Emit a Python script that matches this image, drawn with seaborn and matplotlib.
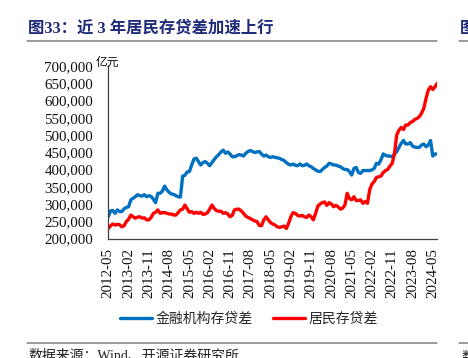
import matplotlib
matplotlib.use("Agg")
import matplotlib.pyplot as plt
from matplotlib.lines import Line2D
from matplotlib.ticker import FuncFormatter
import seaborn as sns
import pandas as pd

# ---- data (亿元), monthly 2012-05 .. 2024-07 ----
months = pd.date_range("2012-05-01", periods=147, freq="MS").strftime("%Y-%m").tolist()

inst_gap = [  # 金融机构存贷差 (thousand 亿元)
    263, 280, 281, 273, 283, 278, 278, 286, 290, 292,
    312, 317, 321, 327, 324, 323, 327, 321, 324, 322,
    314, 304, 331, 331, 337, 352, 341, 334, 329, 328,
    324, 321, 320, 381, 383, 393, 394, 413, 430, 433,
    423, 413, 420, 423, 418, 411, 420, 429, 437, 443,
    451, 456, 447, 451, 445, 437, 437, 440, 443, 442,
    439, 447, 452, 455, 452, 449, 451, 452, 445, 439,
    442, 437, 435, 437, 435, 434, 432, 429, 426, 420,
    415, 413, 416, 412, 411, 416, 411, 412, 416, 411,
    408, 403, 399, 395, 394, 400, 406, 410, 418, 416,
    413, 413, 410, 408, 403, 400, 400, 394, 384, 403,
    406, 391, 389, 397, 397, 397, 397, 399, 403, 418,
    416, 428, 445, 441, 439, 439, 437, 445, 452, 464,
    476, 484, 474, 474, 478, 468, 465, 464, 464, 471,
    474, 466, 471, 484, 439, 445, 445,
]
hh_gap = [  # 居民存贷差 (thousand 亿元)
    229, 237, 242, 239, 241, 240, 234, 237, 249, 256,
    268, 263, 259, 262, 263, 259, 260, 254, 254, 261,
    273, 276, 283, 273, 275, 275, 273, 271, 271, 268,
    268, 275, 283, 285, 297, 286, 276, 278, 273, 276,
    273, 276, 270, 271, 275, 285, 297, 287, 281, 279,
    279, 273, 275, 271, 263, 267, 283, 285, 285, 280,
    273, 265, 261, 258, 254, 251, 249, 238, 237, 254,
    263, 254, 246, 242, 239, 234, 232, 234, 236, 229,
    244, 263, 275, 273, 267, 265, 267, 263, 261, 268,
    263, 254, 273, 294, 300, 304, 306, 296, 304, 300,
    292, 296, 292, 285, 288, 297, 331, 316, 312, 321,
    310, 310, 312, 302, 307, 302, 341, 358, 365, 377,
    379, 381, 391, 397, 400, 410, 418, 447, 500, 514,
    522, 516, 529, 529, 536, 539, 545, 548, 553, 563,
    577, 606, 630, 640, 632, 640, 650,
]
series_names = ["金融机构存贷差", "居民存贷差"]
tick_step = 9

df = pd.DataFrame({
    "idx": list(range(len(months))) * 2,
    "value": [v * 1000 for v in inst_gap] + [v * 1000 for v in hh_gap],
    "series": [series_names[0]] * len(months) + [series_names[1]] * len(months),
})

# ---- style ----
sns.set_style("white")
plt.rcParams["font.family"] = ["Liberation Serif", "Noto Sans CJK SC", "DejaVu Sans"]

W, H = 468, 358
fig = plt.figure(figsize=(W / 100, H / 100), dpi=100)
ax = fig.add_axes([108.3 / W, 1 - 238.5 / H, (437.3 - 108.3) / W, (238.5 - 66) / H])

sns.lineplot(data=df, x="idx", y="value", hue="series",
             palette={series_names[0]: "#0070C0", series_names[1]: "#FF0000"},
             linewidth=2.4, ax=ax, legend=False)

ax.set_xlim(0, len(months) - 1)
ax.set_ylim(200000, 700000)
ax.set_yticks(range(200000, 700001, 50000))
ax.yaxis.set_major_formatter(FuncFormatter(lambda v, p: f"{int(v):,}"))
xt = list(range(0, len(months), tick_step))
ax.set_xticks(xt)
ax.set_xticklabels([months[i] for i in xt], rotation=90)
ax.set_xlabel("")
ax.set_ylabel("")

for s in ["top", "right"]:
    ax.spines[s].set_visible(False)
for s in ["left", "bottom"]:
    ax.spines[s].set_color("#404040")
    ax.spines[s].set_linewidth(0.9)

ax.tick_params(axis="y", direction="in", length=3, width=0.8, color="#404040",
               pad=11, labelsize=10.8, labelcolor="#111111")
ax.tick_params(axis="x", direction="in", length=3, width=0.8, color="#404040",
               pad=7, labelsize=10.8, labelcolor="#111111")

cjk = ["Noto Sans CJK SC", "DejaVu Sans"]
# unit label
fig.text(96 / W, 1 - 62 / H, "亿元", fontsize=8.5, va="center", ha="left",
         color="#111111", family=cjk)

# legend
handles = [Line2D([], [], color="#0070C0", lw=2.4), Line2D([], [], color="#FF0000", lw=2.4)]
fig.legend(handles, series_names, loc="center", bbox_to_anchor=(249 / W, 1 - 319 / H),
           ncol=2, frameon=False, prop={"family": cjk, "size": 10}, handlelength=2.3,
           handletextpad=0.25, columnspacing=1.5)

# title & page decorations
navy = "#1F2A7A"
fig.text(28 / W, 1 - 28 / H, "图33：近 3 年居民存贷差加速上行", fontsize=11.8,
         fontweight="bold", color=navy, va="center", ha="left")
fig.text(460 / W, 1 - 28 / H, "图", fontsize=11.8, fontweight="bold", color=navy,
         va="center", ha="left", family=cjk)
rule = "#7F7F7F"
for y in (41, 343):
    fig.add_artist(Line2D([27 / W, 437 / W], [1 - y / H] * 2, color=rule, lw=1.1))
    fig.add_artist(Line2D([459 / W, 1.0], [1 - y / H] * 2, color=rule, lw=1.1))
fig.text(28 / W, 1 - 350 / H, "数据来源：Wind、开源证券研究所", fontsize=10,
         color="#222222", va="top", ha="left")
fig.text(461 / W, 1 - 350 / H, "数", fontsize=10, color="#222222", va="top", ha="left",
         family=cjk)

fig.savefig("out.png", dpi=100)
